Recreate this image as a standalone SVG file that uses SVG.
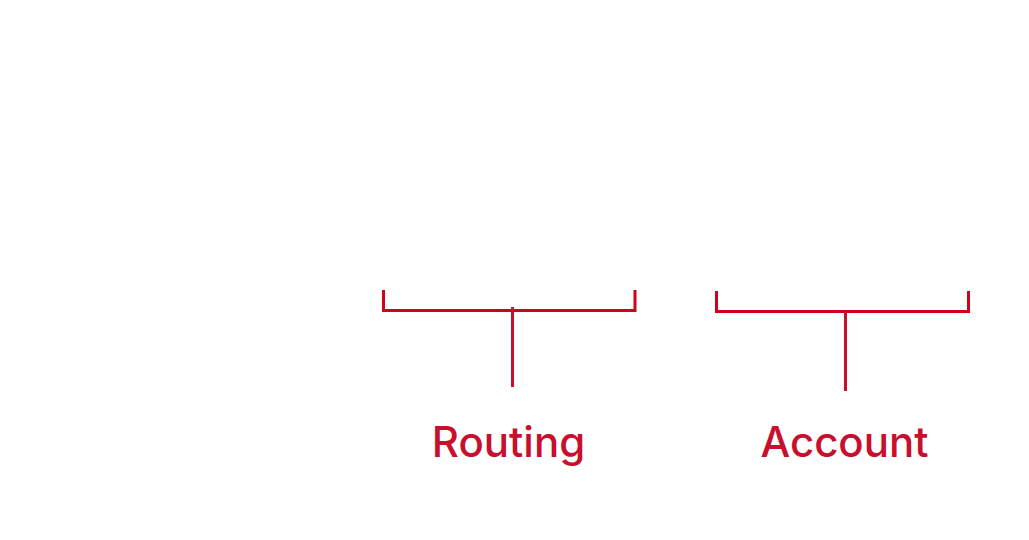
<svg xmlns="http://www.w3.org/2000/svg" width="1029" height="540" viewBox="0 0 1029 540">
<style>
.br{fill:none;stroke:#d0021b;stroke-width:3}
.st{fill:none;stroke:#c8102e;stroke-width:3}
.lb{font-family:Inter,"Noto Sans",sans-serif;font-size:42px;font-weight:500;fill:#c8102e;text-anchor:middle}
</style>
<rect width="1029" height="540" fill="#fff"/>
<g id="connectors">
<path class="br" d="M383.5 290 V310.5 H635 V290"/>
<line class="st" x1="512.5" y1="307" x2="512.5" y2="387"/>
<path class="br" d="M716.5 291 V311.5 H968.5 V291"/>
<line class="st" x1="845.5" y1="311" x2="845.5" y2="391"/>
</g>
<g id="routing"><text class="lb" x="508.5" y="457">Routing</text></g>
<g id="account"><text class="lb" x="844.5" y="457">Account</text></g>
</svg>
